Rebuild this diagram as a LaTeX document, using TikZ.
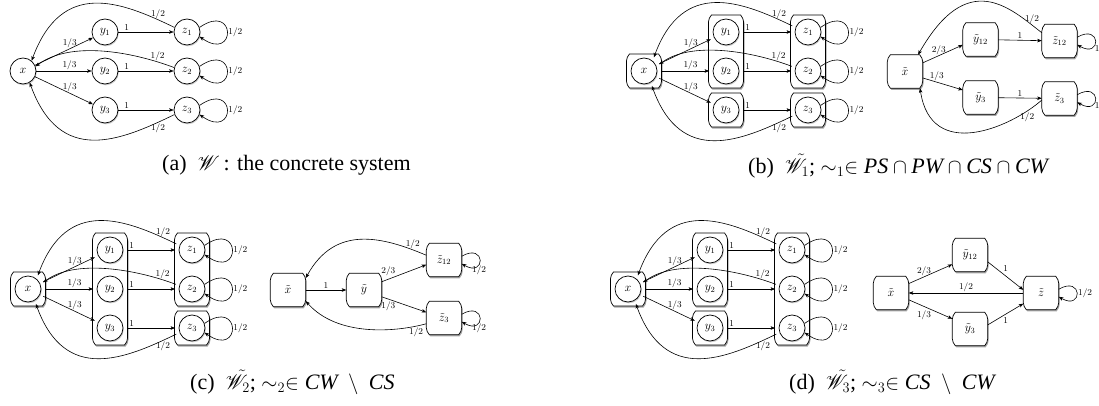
\documentclass[tikz,border=0pt]{standalone}
\usepackage[no-math]{fontspec}
\setmainfont{Liberation Serif}
\usepackage{mathrsfs}
\usetikzlibrary{arrows.meta,shadows,fit,backgrounds,calc}
\newcommand\nlab{\fontsize{12}{14}\selectfont}
\newcommand\elab{\fontsize{9}{11}\selectfont}
% flared box outline around a node: #1 options, #2 node, #3 dx, #4 dy
\newcommand\bshape[4]{\path[#1] ($(#2.north west)+(3+#3,#4)$) -- ($(#2.north east)+(-3+#3,#4)$)
  to[out=-55,in=90] ($(#2.north east)+(#3,-7+#4)$) -- ($(#2.south east)+(#3,7+#4)$)
  to[out=-90,in=55] ($(#2.south east)+(-3+#3,#4)$) -- ($(#2.south west)+(3+#3,#4)$)
  to[out=125,in=-90] ($(#2.south west)+(#3,7+#4)$) -- ($(#2.north west)+(#3,-7+#4)$)
  to[out=90,in=235] ($(#2.north west)+(3+#3,#4)$) -- cycle;}
\newcommand\bbox[1]{\begin{scope}[on background layer]
  \bshape{fill=black!35}{#1}{1}{-1.6}
  \bshape{draw,line width=0.7pt,fill=white}{#1}{0}{0}
  \end{scope}}
\newcommand\concrete[2]{%
 \node[st] (#1x) at (0,0) {$x$};
 \node[st] (#1y1) at (82,39) {$y_1$};
 \node[st] (#1y2) at (82,0) {$y_2$};
 \node[st] (#1y3) at (82,-39) {$y_3$};
 \node[st] (#1z1) at (164,39) {$z_1$};
 \node[st] (#1z2) at (164,0) {$z_2$};
 \node[st] (#1z3) at (164,-39) {$z_3$};
 \begin{scope}[shorten <=#2, shorten >=#2]
 \draw[arr] (#1x) -- node[lab,above,pos=0.6]{$1/3$} (#1y1);
 \draw[arr] (#1x) -- node[lab,above,pos=0.6]{$1/3$} (#1y2);
 \draw[arr] (#1x) -- node[lab,above,pos=0.6]{$1/3$} (#1y3);
 \draw[arr] (#1y1) -- node[lab,above,pos=0.15]{$1$} (#1z1);
 \draw[arr] (#1y2) -- node[lab,above,pos=0.15]{$1$} (#1z2);
 \draw[arr] (#1y3) -- node[lab,above,pos=0.15]{$1$} (#1z3);
 \draw[arr] (#1z1.160) .. controls (97,70) and (39,92) .. node[lab,above,pos=0.1]{$1/2$} (#1x.50);
 \draw[arr] (#1z2.165) .. controls (107,20) and (47,30) .. node[lab,above,pos=0.12]{$1/2$} (#1x.20);
 \draw[arr] (#1z3.200) .. controls (97,-70) and (37,-95) .. node[lab,below,pos=0.1]{$1/2$} (#1x.-60);
 \end{scope}
 \foreach \i in {1,2,3} \draw[arr] (#1z\i.20) to[out=35,in=-35,distance=45] node[lab,right,pos=0.5]{$1/2$} (#1z\i.-20);
}
\begin{document}
\begin{tikzpicture}[x=1pt,y=1pt,
  st/.style={circle,draw,line width=0.7pt,minimum size=26pt,inner sep=0pt,fill=white,
    drop shadow={shadow xshift=0.8pt,shadow yshift=-1.3pt,opacity=0.4},font=\nlab},
  tb/.style={minimum width=35pt,minimum height=33pt,inner sep=0pt,font=\nlab},
  grp/.style={inner xsep=4pt,inner ysep=3.5pt},
  lab/.style={font=\elab,inner sep=1pt},
  arr/.style={-{Stealth[length=4.5pt,width=3.5pt,inset=1pt]},line width=0.6pt},
  captxt/.style={font=\fontsize{22}{26}\selectfont,inner sep=0pt,anchor=west}]
\useasboundingbox (0,0) rectangle (1099,-406);

% ---------- (a)
\begin{scope}[shift={(23,-71)}]\concrete{a}{0pt}\end{scope}
\node[captxt] (capa) at (162,-165) {(a)\enspace$\mathscr{W}$\,: the concrete system};

% ---------- (b) left
\begin{scope}[shift={(644,-71)}]\concrete{b}{3.5pt}\end{scope}
\node[grp,fit=(bx)] (bgx) {};
\node[grp,fit=(by1)(by2)] (bgy12) {};
\node[grp,fit=(by3)] (bgy3) {};
\node[grp,fit=(bz1)(bz2)] (bgz12) {};
\node[grp,fit=(bz3)] (bgz3) {};
\bbox{bgx}\bbox{bgy12}\bbox{bgy3}\bbox{bgz12}\bbox{bgz3}

% ---------- (b) right
\node[tb] (bxt) at (905,-71.5) {$\tilde{x}$};
\node[tb] (by12) at (980.5,-39.5) {$\tilde{y}_{12}$};
\node[tb] (bz12) at (1059.5,-41) {$\tilde{z}_{12}$};
\node[tb] (by3) at (980.5,-97.5) {$\tilde{y}_3$};
\node[tb] (bz3) at (1059.5,-98.5) {$\tilde{z}_3$};
\bbox{bxt}\bbox{by12}\bbox{bz12}\bbox{by3}\bbox{bz3}
\draw[arr] (bxt.26) -- node[lab,above,pos=0.4]{$2/3$} (by12.197);
\draw[arr] (bxt.-20) -- node[lab,above,pos=0.35]{$1/3$} (by3.157);
\draw[arr] (by12) -- node[lab,above]{$1$} (bz12);
\draw[arr] (by3) -- node[lab,above]{$1$} (bz3);
\draw[arr] (bz12.155) .. controls (1010,-8) and (968,32.3) .. node[lab,above,pos=0.1]{$1/2$} (bxt.52);
\draw[arr] (bz3.185) .. controls (1010,-128) and (931,-161.5) .. node[lab,below,pos=0.13]{$1/2$} (bxt.-48);
\draw[arr] (bz12.12) to[out=30,in=-30,distance=28] node[lab,below right,pos=0.6,inner sep=0pt]{$1/2$} (bz12.-12);
\draw[arr] (bz3.12) to[out=30,in=-30,distance=28] node[lab,below right,pos=0.6,inner sep=0pt]{$1/2$} (bz3.-12);
\node[captxt] (capb) at (748,-166) {(b)\enspace$\tilde{\mathscr{W}}_1$; $\sim_1\in\textit{PS}\cap\textit{PW}\cap\textit{CS}\cap\textit{CW}$};

% ---------- (c) left
\begin{scope}[shift={(28,-289)}]\concrete{c}{3.5pt}\end{scope}
\node[grp,fit=(cx)] (cgx) {};
\node[grp,fit=(cy1)(cy3)] (cgy) {};
\node[grp,fit=(cz1)(cz2)] (cgz12) {};
\node[grp,fit=(cz3)] (cgz3) {};
\bbox{cgx}\bbox{cgy}\bbox{cgz12}\bbox{cgz3}

% ---------- (c) right
\node[tb] (cxt) at (288,-290) {$\tilde{x}$};
\node[tb] (cy) at (364,-290) {$\tilde{y}$};
\node[tb] (cz12) at (444,-260) {$\tilde{z}_{12}$};
\node[tb] (cz3) at (444,-318) {$\tilde{z}_3$};
\bbox{cxt}\bbox{cy}\bbox{cz12}\bbox{cz3}
\draw[arr] (cxt) -- node[lab,above]{$1$} (cy);
\draw[arr] (cy.25) -- node[lab,above=2pt,pos=0.15]{$2/3$} (cz12.195);
\draw[arr] (cy.-21) -- node[lab,below=1pt,pos=0.15]{$1/3$} (cz3.162);
\draw[arr] (cz12.165) .. controls (381.3,-236.2) and (335,-225) .. node[lab,above,pos=0.1]{$1/2$} (cxt.34);
\draw[arr] (cz3.198) .. controls (395,-332.3) and (337.2,-336.7) .. node[lab,below,pos=0.1]{$1/2$} (cxt.-32);
\draw[arr] (cz12.12) to[out=30,in=-30,distance=28] node[lab,below,pos=0.6,yshift=-1pt]{$1/2$} (cz12.-12);
\draw[arr] (cz3.12) to[out=30,in=-30,distance=28] node[lab,below,pos=0.6,yshift=-1pt]{$1/2$} (cz3.-12);
\node[captxt] (capc) at (190,-382) {(c)\enspace$\tilde{\mathscr{W}}_2$; $\sim_2\in\textit{CW}\;\setminus\;\textit{CS}$};

% ---------- (d) left
\begin{scope}[shift={(628,-289)}]\concrete{d}{3.5pt}\end{scope}
\node[grp,fit=(dx)] (dgx) {};
\node[grp,fit=(dy1)(dy2)] (dgy12) {};
\node[grp,fit=(dy3)] (dgy3) {};
\node[grp,fit=(dz1)(dz3)] (dgz) {};
\bbox{dgx}\bbox{dgy12}\bbox{dgy3}\bbox{dgz}

% ---------- (d) right
\node[tb] (dxt) at (891,-293) {$\tilde{x}$};
\node[tb] (dy12) at (970,-255) {$\tilde{y}_{12}$};
\node[tb] (dy3) at (970,-329) {$\tilde{y}_3$};
\node[tb] (dz) at (1041,-293) {$\tilde{z}$};
\bbox{dxt}\bbox{dy12}\bbox{dy3}\bbox{dz}
\draw[arr] (dxt.28) -- node[lab,above,pos=0.35]{$2/3$} (dy12.208);
\draw[arr] (dxt.-21) -- node[lab,below=3pt,pos=0.35]{$1/3$} (dy3.150);
\draw[arr] (dy12.-21) -- node[lab,above right,pos=0.4]{$1$} (dz.170);
\draw[arr] (dy3.13) -- node[lab,below right,pos=0.4]{$1$} (dz.211);
\draw[arr] (dz) -- node[lab,above]{$1/2$} (dxt);
\draw[arr] (dz.12) to[out=30,in=-30,distance=28] node[lab,right,pos=0.5]{$1/2$} (dz.-12);
\node[captxt] (capd) at (789,-382) {(d)\enspace$\tilde{\mathscr{W}}_3$; $\sim_3\in\textit{CS}\;\setminus\;\textit{CW}$};
\end{tikzpicture}
\end{document}
